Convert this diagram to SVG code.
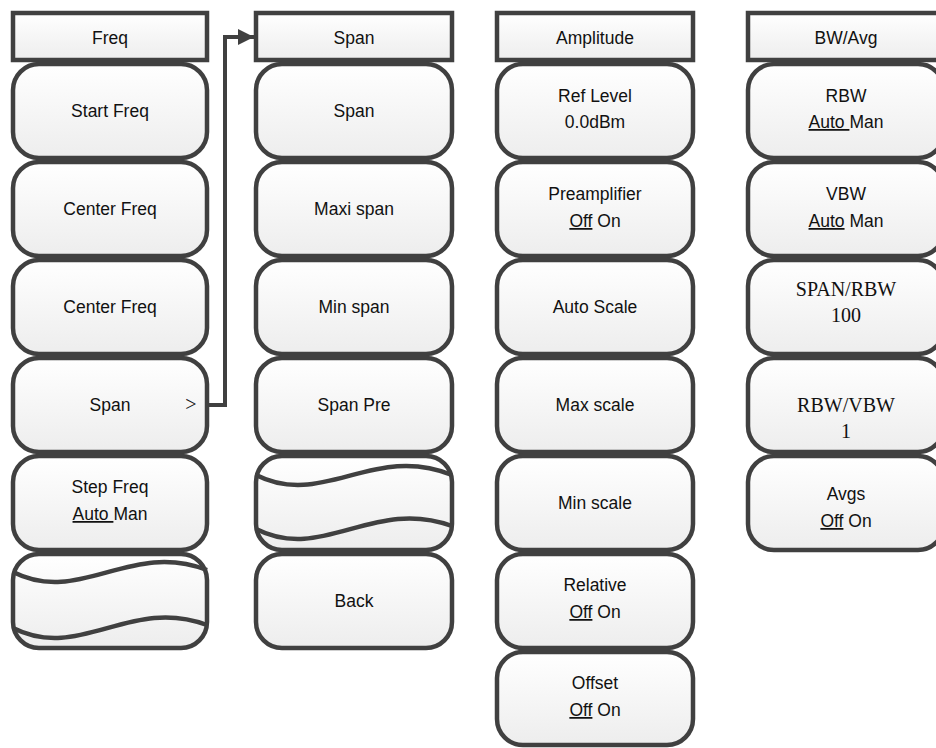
<svg xmlns="http://www.w3.org/2000/svg" width="936" height="748" viewBox="0 0 936 748">
<defs>
<linearGradient id="g" x1="0" y1="0" x2="0" y2="1">
<stop offset="0" stop-color="#ffffff"/>
<stop offset="1" stop-color="#ededed"/>
</linearGradient>
<marker id="arr" markerWidth="16" markerHeight="16" refX="16" refY="8" orient="auto" markerUnits="userSpaceOnUse">
<path d="M0,0 L16,8 L0,16 Z" fill="#404040"/>
</marker>
</defs>
<style>
.hd{fill:url(#g);stroke:#404040;stroke-width:4.5}
.bt{fill:url(#g);stroke:#404040;stroke-width:4.5}
.wv{fill:none;stroke:#404040;stroke-width:4.5}
.t{font-family:"Liberation Sans",Arial,sans-serif;font-size:17.5px;fill:#111;text-anchor:middle}
.s{font-family:"Liberation Serif","Times New Roman",serif;font-size:20px;fill:#111;text-anchor:middle}
.u{text-decoration:underline}
.cn{fill:none;stroke:#404040;stroke-width:4}
</style>
<rect width="936" height="748" fill="#ffffff"/>

<!-- Column 1: Freq -->
<g id="freq-header"><rect class="hd" x="13" y="13" width="194" height="47"/><text class="t" x="110" y="44">Freq</text></g>
<g id="start-freq"><rect class="bt" x="13" y="64" width="194" height="94" rx="26"/><text class="t" x="110" y="117">Start Freq</text></g>
<g id="center-freq-1"><rect class="bt" x="13" y="162" width="194" height="94" rx="26"/><text class="t" x="110" y="215">Center Freq</text></g>
<g id="center-freq-2"><rect class="bt" x="13" y="260" width="194" height="94" rx="26"/><text class="t" x="110" y="313">Center Freq</text></g>
<g id="span-btn"><rect class="bt" x="13" y="358" width="194" height="94" rx="26"/><text class="t" x="110" y="411">Span</text><text class="s" x="191" y="411">&gt;</text></g>
<g id="step-freq"><rect class="bt" x="13" y="456" width="194" height="94" rx="26"/><text class="t" x="110" y="493">Step Freq</text><text class="t" x="110" y="520"><tspan class="u">Auto </tspan>Man</text></g>
<g id="freq-more"><rect class="bt" x="13" y="554" width="194" height="94" rx="26"/>
<path class="wv" d="M13,572 C80,606 130,540 207,570"/>
<path class="wv" d="M13,628 C80,662 130,596 207,625"/></g>

<!-- Column 2: Span -->
<g id="span-header"><rect class="hd" x="256" y="13" width="196" height="47"/><text class="t" x="354" y="44">Span</text></g>
<g id="span-span"><rect class="bt" x="256" y="64" width="196" height="94" rx="26"/><text class="t" x="354" y="117">Span</text></g>
<g id="maxi-span"><rect class="bt" x="256" y="162" width="196" height="94" rx="26"/><text class="t" x="354" y="215">Maxi span</text></g>
<g id="min-span"><rect class="bt" x="256" y="260" width="196" height="94" rx="26"/><text class="t" x="354" y="313">Min span</text></g>
<g id="span-pre"><rect class="bt" x="256" y="358" width="196" height="94" rx="26"/><text class="t" x="354" y="411">Span Pre</text></g>
<g id="span-more"><rect class="bt" x="256" y="456" width="196" height="94" rx="26"/>
<path class="wv" d="M256,475 C323,509 373,443 452,475"/>
<path class="wv" d="M256,529 C323,563 373,497 452,526"/></g>
<g id="back"><rect class="bt" x="256" y="554" width="196" height="94" rx="26"/><text class="t" x="354" y="607">Back</text></g>

<!-- Column 3: Amplitude -->
<g id="amp-header"><rect class="hd" x="497" y="13" width="196" height="47"/><text class="t" x="595" y="44">Amplitude</text></g>
<g id="ref-level"><rect class="bt" x="497" y="64" width="196" height="94" rx="26"/><text class="t" x="595" y="102">Ref Level</text><text class="t" x="595" y="128">0.0dBm</text></g>
<g id="preamp"><rect class="bt" x="497" y="162" width="196" height="94" rx="26"/><text class="t" x="595" y="200">Preamplifier</text><text class="t" x="595" y="227"><tspan class="u">Off</tspan> On</text></g>
<g id="auto-scale"><rect class="bt" x="497" y="260" width="196" height="94" rx="26"/><text class="t" x="595" y="313">Auto Scale</text></g>
<g id="max-scale"><rect class="bt" x="497" y="358" width="196" height="94" rx="26"/><text class="t" x="595" y="411">Max scale</text></g>
<g id="min-scale"><rect class="bt" x="497" y="456" width="196" height="94" rx="26"/><text class="t" x="595" y="509">Min scale</text></g>
<g id="relative"><rect class="bt" x="497" y="554" width="196" height="94" rx="26"/><text class="t" x="595" y="591">Relative</text><text class="t" x="595" y="618"><tspan class="u">Off</tspan> On</text></g>
<g id="offset"><rect class="bt" x="497" y="652" width="196" height="93" rx="26"/><text class="t" x="595" y="689">Offset</text><text class="t" x="595" y="716"><tspan class="u">Off</tspan> On</text></g>

<!-- Column 4: BW/Avg -->
<g id="bw-header"><rect class="hd" x="748" y="13" width="196" height="47"/><text class="t" x="846" y="44">BW/Avg</text></g>
<g id="rbw"><rect class="bt" x="748" y="64" width="196" height="94" rx="26"/><text class="t" x="846" y="102">RBW</text><text class="t" x="846" y="128"><tspan class="u">Auto </tspan>Man</text></g>
<g id="vbw"><rect class="bt" x="748" y="162" width="196" height="94" rx="26"/><text class="t" x="846" y="200">VBW</text><text class="t" x="846" y="227"><tspan class="u">Auto</tspan> Man</text></g>
<g id="span-rbw"><rect class="bt" x="748" y="260" width="196" height="94" rx="26"/><text class="s" x="846" y="296">SPAN/RBW</text><text class="s" x="846" y="322">100</text></g>
<g id="rbw-vbw"><rect class="bt" x="748" y="358" width="196" height="94" rx="26"/><text class="s" x="846" y="412">RBW/VBW</text><text class="s" x="846" y="438">1</text></g>
<g id="avgs"><rect class="bt" x="748" y="456" width="196" height="94" rx="26"/><text class="t" x="846" y="500">Avgs</text><text class="t" x="846" y="527"><tspan class="u">Off</tspan> On</text></g>

<!-- Connectors -->
<g id="connectors">
<path class="cn" d="M209,405 H225 V37 H254" marker-end="url(#arr)"/>
</g>
</svg>
